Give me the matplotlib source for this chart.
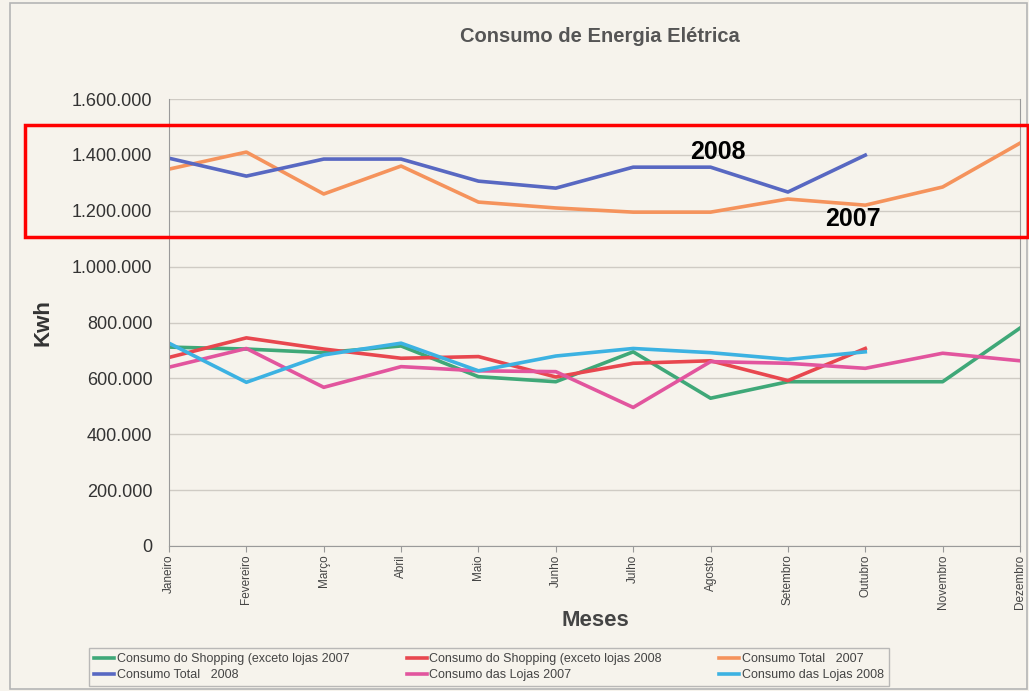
import matplotlib
matplotlib.use("Agg")
import matplotlib.pyplot as plt
from matplotlib.patches import Rectangle
from matplotlib.ticker import FuncFormatter

plt.rcParams["font.family"] = ["Liberation Sans", "DejaVu Sans"]

meses = ["Janeiro", "Fevereiro", "Março", "Abril", "Maio", "Junho", "Julho",
         "Agosto", "Setembro", "Outubro", "Novembro", "Dezembro"]

shopping_2007 = [712000, 705000, 692000, 716000, 606000, 588000, 695000, 529000, 588000, 588000, 588000, 780000]
shopping_2008 = [675000, 745000, 705000, 672000, 678000, 605000, 654000, 663000, 592000, 707000]
total_2007 = [1349000, 1410000, 1260000, 1360000, 1231000, 1210000, 1195000, 1195000, 1242000, 1220000, 1285000, 1442000]
total_2008 = [1388000, 1324000, 1385000, 1385000, 1306000, 1281000, 1356000, 1356000, 1267000, 1399000]
lojas_2007 = [640000, 707000, 568000, 642000, 627000, 624000, 496000, 660000, 654000, 636000, 690000, 663000]
lojas_2008 = [726000, 586000, 684000, 726000, 627000, 680000, 707000, 692000, 668000, 695000]

series = [
    ("Consumo do Shopping (exceto lojas 2007", shopping_2007, "#3fa878"),
    ("Consumo do Shopping (exceto lojas 2008", shopping_2008, "#e8474f"),
    ("Consumo Total   2007", total_2007, "#f5935c"),
    ("Consumo Total   2008", total_2008, "#5868c2"),
    ("Consumo das Lojas 2007", lojas_2007, "#e2559e"),
    ("Consumo das Lojas 2008", lojas_2008, "#3cb2e2"),
]

bg = "#f6f3ec"
fig = plt.figure(figsize=(10.29, 6.91), dpi=100, facecolor=bg)
ax = fig.add_axes([169/1029, 1-546/691, (1020-169)/1029, (546-99)/691])
ax.set_facecolor(bg)

lines = {}
for name, vals, col in series:
    l, = ax.plot(range(len(vals)), vals, color=col, lw=2.6, label=name)
    lines[name] = l

ax.set_xlim(0, 11)
ax.set_ylim(0, 1600000)
ax.set_yticks(range(0, 1600001, 200000))
ax.yaxis.set_major_formatter(FuncFormatter(lambda v, p: f"{int(v):,}".replace(",", ".")))
ax.set_xticks(range(12))
ax.set_xticklabels(meses, rotation=90, fontsize=8.5, color="#444444")
ax.tick_params(axis="y", labelsize=13, colors="#333333", length=0, pad=12)
ax.tick_params(axis="x", length=4, color="#999999", pad=2)
ax.grid(axis="y", color="#cfcbc4", lw=1)
ax.set_axisbelow(True)
ax.spines["top"].set_visible(False)
for s in ["left", "right", "bottom"]:
    ax.spines[s].set_color("#9a9a9a")

ax.set_ylabel("Kwh", fontsize=16, fontweight="bold", color="#333333")
ax.yaxis.set_label_coords((54-169)/851, 0.5)
ax.set_xlabel("Meses", fontsize=16, fontweight="bold", color="#444444")
ax.xaxis.set_label_coords((595-169)/851, (546-610)/447)
fig.text(600/1029, 1-37/691, "Consumo de Energia Elétrica", ha="center", va="center",
         fontsize=14.5, fontweight="bold", color="#555555")

order = ["Consumo do Shopping (exceto lojas 2007", "Consumo Total   2008",
         "Consumo do Shopping (exceto lojas 2008", "Consumo das Lojas 2007",
         "Consumo Total   2007", "Consumo das Lojas 2008"]
leg = fig.legend([lines[n] for n in order], order, ncol=3, loc="center",
                 bbox_to_anchor=(489/1029, 1-667/691), fontsize=9, frameon=True,
                 handlelength=1.6, handletextpad=0.2, columnspacing=4.6,
                 borderpad=0.4, labelspacing=0.3, fancybox=False)
leg.get_frame().set_facecolor(bg)
leg.get_frame().set_edgecolor("#aaaaaa")
for t in leg.get_texts():
    t.set_color("#444444")

# outer chart border
fig.patches.append(Rectangle((10/1029, 2/691), 1017/1029, 686/691, transform=fig.transFigure,
                             fill=False, edgecolor="#b5b5b5", lw=1.2))
# red highlight box
fig.patches.append(Rectangle((25/1029, 1-237/691), 1003/1029, 112/691, transform=fig.transFigure,
                             fill=False, edgecolor="#ff0000", lw=2.5, zorder=10))
fig.text(718/1029, 1-152/691, "2008", ha="center", va="center", fontsize=18, fontweight="bold", color="black")
fig.text(853/1029, 1-219/691, "2007", ha="center", va="center", fontsize=18, fontweight="bold", color="black")

fig.savefig("out.png", dpi=100, facecolor=bg)
